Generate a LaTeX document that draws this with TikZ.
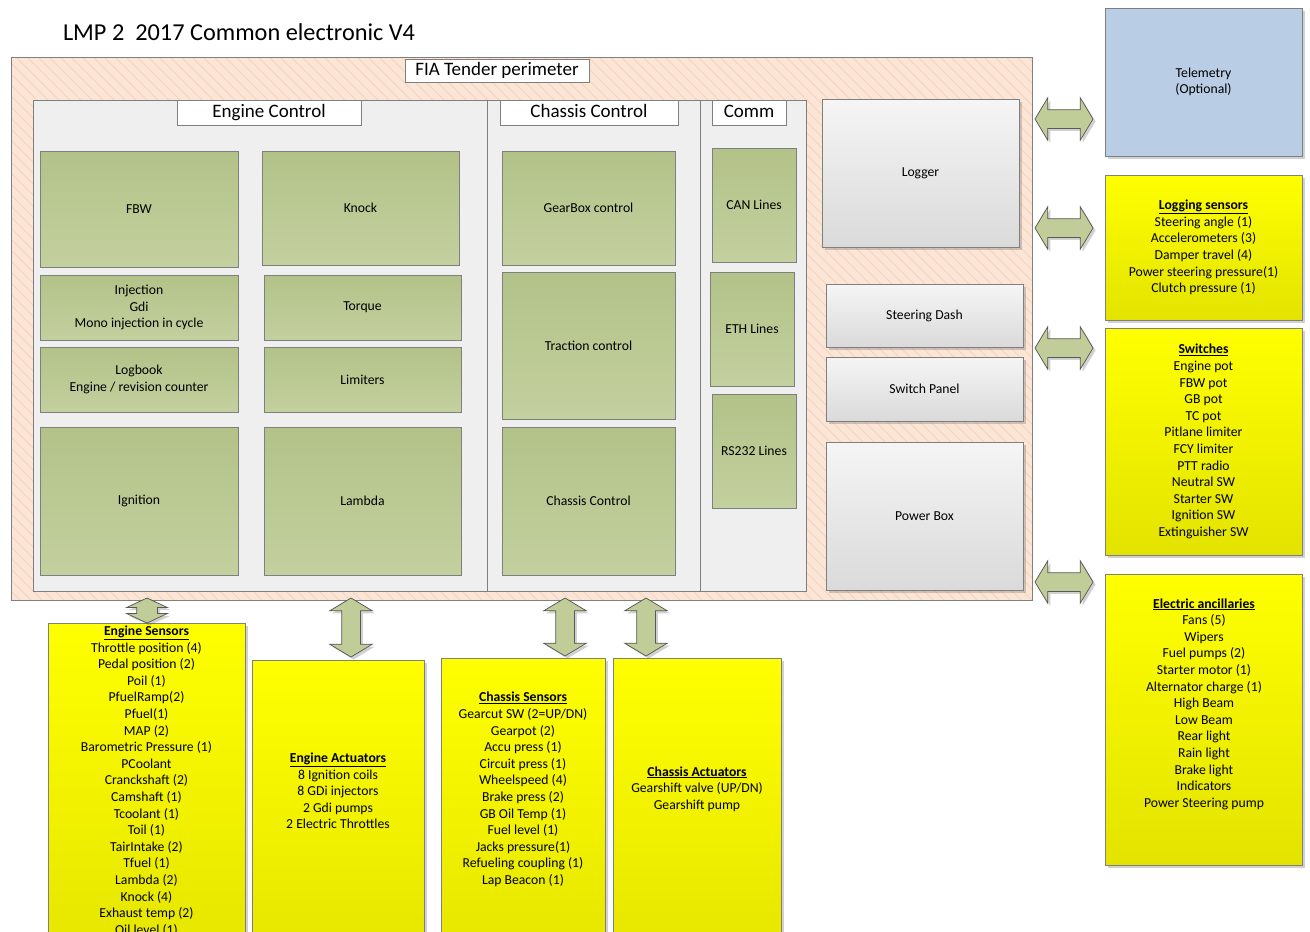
\documentclass[tikz,border=0pt]{standalone}
\usepackage{fontspec}
\setmainfont{Carlito}
\usetikzlibrary{shapes.arrows,shadows}
\definecolor{peach}{HTML}{FBE5D6}
\definecolor{hatchc}{HTML}{F7D3B9}
\definecolor{panelc}{HTML}{EFEFEF}
\definecolor{edgec}{HTML}{7F7F7F}
\definecolor{greenTop}{HTML}{B3C288}
\definecolor{greenBot}{HTML}{C3D09F}
\definecolor{yellowTop}{HTML}{FFFF00}
\definecolor{yellowBot}{HTML}{E3E300}
\definecolor{grayTop}{HTML}{F5F5F5}
\definecolor{grayBot}{HTML}{DADADA}
\definecolor{telblue}{HTML}{B9CDE5}
\definecolor{arrowgreen}{HTML}{C0CD98}
\newcommand\mybox[7]{\node[#6, minimum width={(#4-#2)*1pt}, minimum height={(#5-#3)*1pt}] (#1) at ({(#2+#4)/2},{(#3+#5)/2}) {#7};}
\begin{document}
\begin{tikzpicture}[x=1pt,y=-1pt, line width=0.75pt,
  every node/.style={inner sep=0pt, outer sep=0pt},
  txt/.style={font=\fontsize{13.7}{16.6}\selectfont, align=center, text=black},
  shad/.style={drop shadow={shadow xshift=2.5pt, shadow yshift=-2.5pt, opacity=0.3, fill=black!60}},
  greenbox/.style={txt, draw=edgec, top color=greenTop, bottom color=greenBot},
  graybox/.style={txt, draw=edgec, top color=grayTop, bottom color=grayBot, shad},
  yellowbox/.style={txt, draw=edgec, top color=yellowTop, bottom color=yellowBot, shad},
  bluebox/.style={txt, draw=edgec, fill=telblue, shad},
  panelbox/.style={draw=edgec, fill=panelc},
  header/.style={draw=edgec, fill=white, font=\fontsize{19}{22}\selectfont, text height=13pt, text depth=4pt},
  darrow/.style={double arrow, draw=black!65, fill=arrowgreen, inner xsep=0pt, inner ysep=9pt, double arrow head extend=12pt, double arrow tip angle=118, shad},
]
\clip (0,0) rectangle (1310,932);
% title
\node[anchor=west, font=\fontsize{24.3}{28}\selectfont] (title) at (63,32) {LMP 2\ \ 2017 Common electronic V4};
% FIA perimeter
\mybox{fia}{11}{57}{1032}{600}{fill=peach}{}
\begin{scope}
\clip (11,57) rectangle (1032,600);
\foreach \i in {-600,-589,...,1040} \draw[hatchc, line width=0.8pt] (\i,57) -- ++(560,560);
\end{scope}
\draw[edgec] (fia.north west) rectangle (fia.south east);
\mybox{fialbl}{405}{59}{589}{82}{header}{FIA Tender perimeter}
% panels
\mybox{engpanel}{33}{100}{487}{591}{panelbox}{}
\mybox{chapanel}{487}{100}{700}{591}{panelbox}{}
\mybox{companel}{700}{100}{806}{591}{panelbox}{}
\mybox{hdrE}{177}{100}{361}{125}{header}{Engine Control}
\mybox{hdrC}{500}{100}{678}{125}{header}{Chassis Control}
\mybox{hdrM}{712}{100}{786}{125}{header}{Comm}
% green boxes
\mybox{fbw}{40}{151}{238}{267}{greenbox}{FBW}
\mybox{knock}{262}{151}{459}{265}{greenbox}{Knock}
\mybox{inj}{40}{275}{238}{340}{greenbox}{Injection\\Gdi\\Mono injection in cycle}
\mybox{torque}{264}{275}{461}{340}{greenbox}{Torque}
\mybox{logbook}{40}{347}{238}{412}{greenbox}{Logbook\\Engine / revision counter}
\mybox{limiters}{264}{347}{461}{412}{greenbox}{Limiters}
\mybox{ign}{40}{427}{238}{575}{greenbox}{Ignition}
\mybox{lambda}{264}{427}{461}{575}{greenbox}{Lambda}
\mybox{gearbox}{502}{151}{675}{265}{greenbox}{GearBox control}
\mybox{traction}{502}{272}{675}{419}{greenbox}{Traction control}
\mybox{chassisctl}{502}{427}{675}{575}{greenbox}{Chassis Control}
\mybox{can}{712}{148}{796}{262}{greenbox}{CAN Lines}
\mybox{eth}{710}{272}{794}{386}{greenbox}{ETH Lines}
\mybox{rs}{712}{394}{796}{508}{greenbox}{RS232 Lines}
% gray boxes
\mybox{logger}{822}{99}{1019}{247}{graybox}{Logger}
\mybox{dash}{826}{284}{1023}{347}{graybox}{Steering Dash}
\mybox{swpanel}{826}{357}{1023}{421}{graybox}{Switch Panel}
\mybox{powerbox}{826}{442}{1023}{590}{graybox}{Power Box}
% right column
\mybox{telemetry}{1105}{8}{1302}{156}{bluebox}{Telemetry\\(Optional)}
\mybox{logsens}{1105}{175}{1302}{320}{yellowbox}{\underline{\textbf{Logging sensors}}\\Steering angle (1)\\Accelerometers (3)\\Damper travel (4)\\Power steering pressure(1)\\Clutch pressure (1)}
\mybox{switches}{1105}{328}{1302}{555}{yellowbox}{\underline{\textbf{Switches}}\\Engine pot\\FBW pot\\GB pot\\TC pot\\Pitlane limiter\\FCY limiter\\PTT radio\\Neutral SW\\Starter SW\\Ignition SW\\Extinguisher SW}
\mybox{elec}{1105}{574}{1302}{865}{yellowbox}{}
\node[txt] (elec-t) at (1204,704) {\underline{\textbf{Electric ancillaries}}\\Fans (5)\\Wipers\\Fuel pumps (2)\\Starter motor (1)\\Alternator charge (1)\\High Beam\\Low Beam\\Rear light\\Rain light\\Brake light\\Indicators\\Power Steering pump};
% bottom row
\mybox{engsens}{48}{623}{245}{990}{yellowbox}{}
\node[txt] (engsens-t) at (146.5,781) {\underline{\textbf{Engine Sensors}}\\Throttle position (4)\\Pedal position (2)\\Poil (1)\\PfuelRamp(2)\\Pfuel(1)\\MAP (2)\\Barometric Pressure (1)\\PCoolant\\Cranckshaft (2)\\Camshaft (1)\\Tcoolant (1)\\Toil (1)\\TairIntake (2)\\Tfuel (1)\\Lambda (2)\\Knock (4)\\Exhaust temp (2)\\Oil level (1)};
\mybox{engact}{252}{660}{424}{990}{yellowbox}{}
\node[txt] (engact-t) at (338,791) {\underline{\textbf{Engine Actuators}}\\8 Ignition coils\\8 GDi injectors\\2 Gdi pumps\\2 Electric Throttles};
\mybox{chasens}{441}{658}{605}{990}{yellowbox}{}
\node[txt] (chasens-t) at (523,789.5) {\underline{\textbf{Chassis Sensors}}\\Gearcut SW (2=UP/DN)\\Gearpot (2)\\Accu press (1)\\Circuit press (1)\\Wheelspeed (4)\\Brake press (2)\\GB Oil Temp (1)\\Fuel level (1)\\Jacks pressure(1)\\Refueling coupling (1)\\Lap Beacon (1)};
\mybox{chaact}{613}{658}{781}{990}{yellowbox}{}
\node[txt] (chaact-t) at (697,789) {\underline{\textbf{Chassis Actuators}}\\Gearshift valve (UP/DN)\\Gearshift pump};
% block arrows
\node[darrow, minimum height=58pt] (a1) at (1064,119) {};
\node[darrow, minimum height=58pt] (a2) at (1064,228) {};
\node[darrow, minimum height=58pt] (a3) at (1064,348) {};
\node[darrow, minimum height=58pt] (a4) at (1064,582) {};
\node[darrow, minimum height=25pt, inner ysep=10pt, double arrow head extend=10pt, double arrow tip angle=130, rotate=90] (a5) at (147,610.5) {};
\node[darrow, minimum height=59pt, rotate=90] (a6) at (351,627.5) {};
\node[darrow, minimum height=58pt, rotate=90] (a7) at (565,627) {};
\node[darrow, minimum height=58pt, rotate=90] (a8) at (646,627) {};
\end{tikzpicture}
\end{document}
